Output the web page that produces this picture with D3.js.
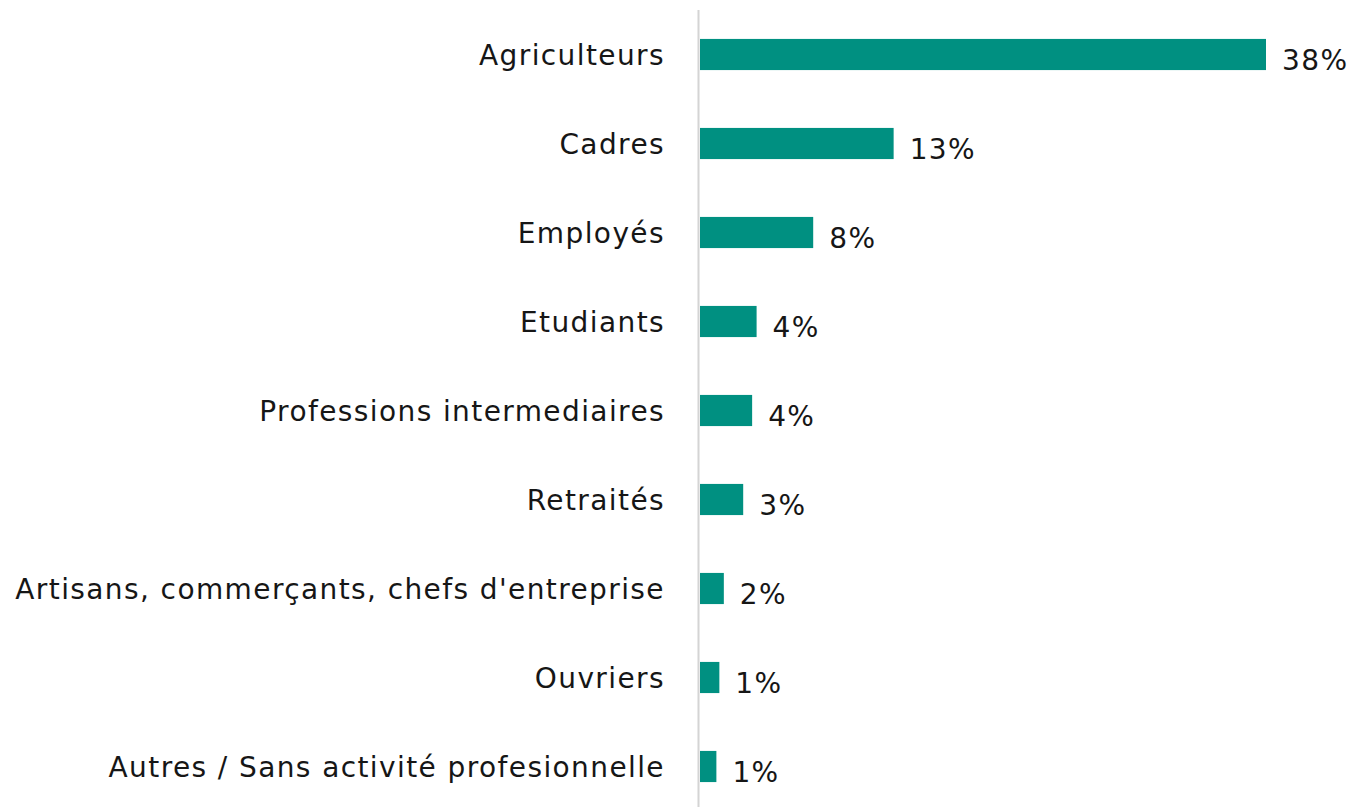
<!DOCTYPE html>
<html>
<head>
<meta charset="utf-8">
<script src="https://cdn.jsdelivr.net/npm/d3@7"></script>
<style>
  body { margin: 0; background: #fff; }
  text { font-family: "DejaVu Sans", sans-serif; fill: #161616; letter-spacing: 1.4px; }
</style>
</head>
<body>
<div id="chart"></div>
<script>
// categories (top to bottom) and their shares in %
const categories = ["Agriculteurs", "Cadres", "Employés", "Etudiants",
  "Professions intermediaires", "Retraités",
  "Artisans, commerçants, chefs d'entreprise", "Ouvriers",
  "Autres / Sans activité profesionnelle"];
const shares = [38, 13, 7.6, 3.8, 3.5, 2.9, 1.6, 1.3, 1.1];

const W = 1350, H = 807;
const margin = {top: 10, right: 84, bottom: -4, left: 700};

const data = categories.map((c, i) => ({cat: c, val: shares[i]}));

const svg = d3.select("#chart").append("svg")
    .attr("width", W)
    .attr("height", H);

const x = d3.scaleLinear()
  .domain([0, 38])
  .range([margin.left, W - margin.right]);

const y = d3.scaleBand()
  .domain(categories)
  .range([margin.top, H - margin.bottom])
  .paddingInner(0.65)
  .paddingOuter(0.325);

// vertical axis line
svg.append("line")
  .attr("x1", margin.left - 1.5).attr("x2", margin.left - 1.5)
  .attr("y1", margin.top).attr("y2", H)
  .attr("stroke", "#d4d4d4")
  .attr("stroke-width", 2);

// category labels
svg.append("g")
  .selectAll("text")
  .data(data)
  .enter().append("text")
  .attr("x", margin.left - 35)
  .attr("y", d => y(d.cat) + y.bandwidth() / 2)
  .attr("dy", "0.36em")
  .attr("text-anchor", "end")
  .style("font-size", "28px")
  .text(d => d.cat);

// bars
svg.append("g")
  .selectAll("rect")
  .data(data)
  .enter().append("rect")
  .attr("x", x(0))
  .attr("y", d => y(d.cat))
  .attr("width", d => x(d.val) - x(0))
  .attr("height", y.bandwidth())
  .attr("fill", "#009081");

// value labels
const fmt = v => Math.round(v) + "%";
svg.append("g")
  .selectAll("text")
  .data(data)
  .enter().append("text")
  .attr("x", d => x(d.val) + 16)
  .attr("y", d => y(d.cat) + y.bandwidth() / 2 + 5)
  .attr("dy", "0.36em")
  .style("font-size", "28px")
  .text(d => fmt(d.val));
</script>
</body>
</html>
